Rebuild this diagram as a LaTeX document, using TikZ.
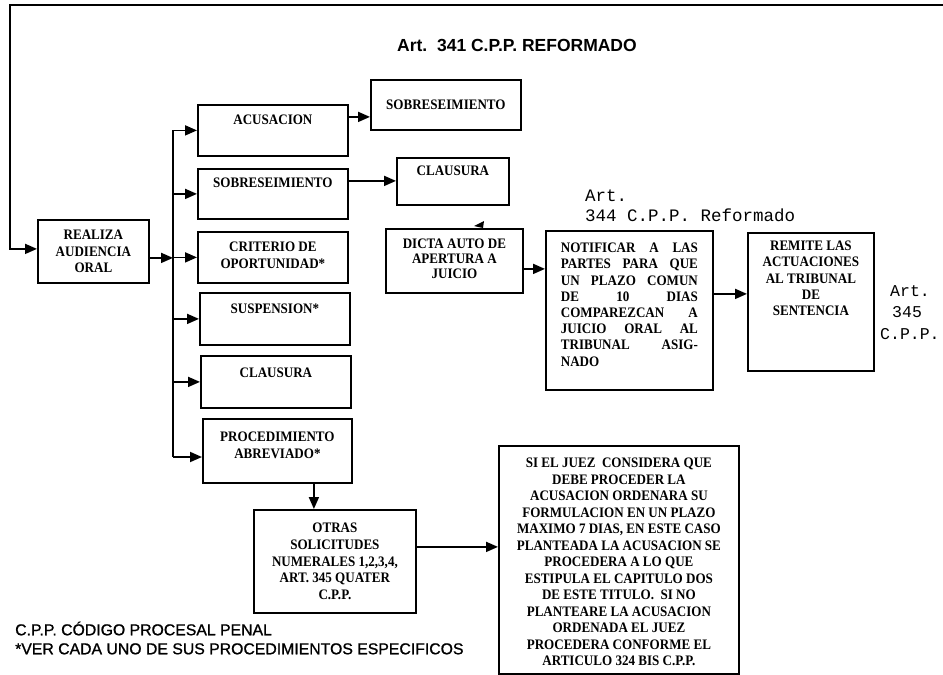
\documentclass[tikz,border=0pt]{standalone}
\usepackage{fontspec}
\setmainfont{Liberation Serif}
\setsansfont{Liberation Sans}
\setmonofont{Liberation Mono}
\newfontfamily\bxf{Liberation Serif}[FakeStretch=0.9]
\newfontfamily\footf{Liberation Sans}[FakeBold=1]
\usetikzlibrary{arrows.meta}
\newcommand{\tb}[4]{\parbox[c][#2][t]{#1}{\centering\vspace*{#3}#4\par}}
\newcommand{\cb}[3]{\parbox[c][#2][c]{#1}{\centering #3\par}}
\newcommand{\jl}[1]{\makebox[137pt][s]{#1}}
\begin{document}
\begin{tikzpicture}[x=1pt,y=-1pt,
  box/.style={draw, line width=1.8pt, inner sep=0pt, anchor=north west,
    font=\bxf\bfseries\fontsize{14.5}{16.5}\selectfont},
  arr/.style={line width=1.8pt, -{Triangle[length=12pt,width=10pt]}},
  ln/.style={line width=1.8pt}]
\useasboundingbox (0,0) rectangle (943,675);
\fill[white] (0,0) rectangle (943,675);

% title and notes
\node[anchor=west, inner sep=0pt, font=\sffamily\bfseries\fontsize{17.5}{20}\selectfont] (title) at (397,45) {Art.\ \ 341 C.P.P. REFORMADO};
\node[anchor=north west, inner sep=0pt, align=left, font=\ttfamily\fontsize{17.5}{20}\selectfont] (a344) at (585,190) {Art.\\344 C.P.P. Reformado};
\node[anchor=north west, inner sep=0pt, align=left, font=\ttfamily\fontsize{16.5}{21.5}\selectfont] (a345) at (880,285) {\hspace*{10pt}Art.\\\hspace*{12pt}345\\C.P.P.};
\node[anchor=west, inner sep=0pt, align=left, font=\footf\fontsize{15.8}{19}\selectfont] (foot) at (15,638) {C.P.P. CÓDIGO PROCESAL PENAL\\*VER CADA UNO DE SUS PROCEDIMIENTOS ESPECIFICOS};

% boxes
\node[box] (real) at (37,219) {\cb{111pt}{63pt}{REALIZA\\AUDIENCIA\\ORAL}};
\node[box] (acus) at (197,104) {\tb{150pt}{51pt}{10pt}{ACUSACION}};
\node[box] (sobre) at (197,168) {\tb{150pt}{50pt}{9.2pt}{SOBRESEIMIENTO}};
\node[box] (crit) at (197,231) {\tb{150pt}{51pt}{10.2pt}{CRITERIO DE\\OPORTUNIDAD*}};
\node[box] (susp) at (199,292) {\tb{150pt}{52pt}{11.2pt}{SUSPENSION*}};
\node[box] (claus) at (200,355) {\tb{150pt}{52pt}{12.2pt}{CLAUSURA}};
\node[box] (proc) at (202,418) {\tb{149pt}{64pt}{13.2pt}{PROCEDIMIENTO\\ABREVIADO*}};
\node[box] (sobreR) at (370,79) {\cb{150pt}{50pt}{SOBRESEIMIENTO}};
\node[box] (clausR) at (396,157) {\tb{112pt}{47pt}{8.2pt}{CLAUSURA}};
\node[box, font=\bxf\bfseries\fontsize{14.5}{15}\selectfont] (dicta) at (385,228) {\tb{137pt}{64pt}{10.2pt}{DICTA AUTO DE\\APERTURA A\\JUICIO}};
\node[box, font=\bxf\bfseries\fontsize{14.5}{16.2}\selectfont] (notif) at (545,230) {\tb{167pt}{159pt}{12.2pt}{\jl{NOTIFICAR A LAS}\\\jl{PARTES PARA QUE}\\\jl{UN PLAZO COMUN}\\\jl{DE 10 DIAS}\\\jl{COMPAREZCAN A}\\\jl{JUICIO ORAL AL}\\\jl{TRIBUNAL ASIG-}\\\makebox[137pt][l]{NADO}}};
\node[box, font=\bxf\bfseries\fontsize{14.5}{16.25}\selectfont] (remite) at (747,232) {\tb{126pt}{138pt}{8.2pt}{REMITE LAS\\ACTUACIONES\\AL TRIBUNAL\\DE\\SENTENCIA}};
\node[box, font=\bxf\bfseries\fontsize{14.5}{16.7}\selectfont] (otras) at (253,509) {\tb{162pt}{103pt}{13.2pt}{OTRAS\\SOLICITUDES\\NUMERALES 1,2,3,4,\\ART. 345 QUATER\\C.P.P.}};
\node[box] (si) at (498,445) {\tb{240pt}{228pt}{12.2pt}{SI EL JUEZ\ \ CONSIDERA QUE\\DEBE PROCEDER LA\\ACUSACION ORDENARA SU\\FORMULACION EN UN PLAZO\\MAXIMO 7 DIAS, EN ESTE CASO\\PLANTEADA LA ACUSACION SE\\PROCEDERA A LO QUE\\ESTIPULA EL CAPITULO DOS\\DE ESTE TITULO.\ \ SI NO\\PLANTEARE LA ACUSACION\\ORDENADA EL JUEZ\\PROCEDERA CONFORME EL\\ARTICULO 324 BIS C.P.P.}};

% connectors
\coordinate (tr) at (943,5);
\coordinate (tl) at (10,5);
\draw[arr] (tr) -- (tl) |- ([yshift=2.5pt]real.west);

\coordinate (bt) at (173,130);
\coordinate (bb) at (173,457);
\draw[ln] (bt) -- (bb);
\coordinate (p0) at ([yshift=-6.5pt]real.east);
\draw[arr] (p0) -- (p0 -| bt);
\draw[arr] (bt |- acus.west) -- (acus.west);
\draw[arr] (bt |- sobre.west) -- (sobre.west);
\draw[arr] (bt |- crit.west) -- (crit.west);
\draw[arr] (bt |- susp.west) -- (susp.west);
\draw[arr] (bt |- claus.west) -- (claus.west);
\draw[arr] (bb) -- (bb -| proc.west);

\coordinate (p1) at ([yshift=13.5pt]acus.east);
\draw[arr] (p1) -- (p1 -| sobreR.west);
\coordinate (p2) at ([yshift=13pt]sobre.east);
\draw[arr] (p2) -- (p2 -| clausR.west);
\coordinate (p3) at ([yshift=-8pt]dicta.east);
\draw[arr] (p3) -- (p3 -| notif.west);
\coordinate (p4) at ([yshift=16.5pt]notif.east);
\draw[arr] (p4) -- (p4 -| remite.west);
\coordinate (p5) at ([xshift=36.5pt]proc.south);
\draw[arr] (p5) -- (p5 |- otras.north);
\coordinate (p6) at ([yshift=14.5pt]otras.east);
\draw[arr] (p6) -- (p6 -| si.west);

% small arrow tip on top of the DICTA box
\fill (474,226) -- (484,221) -- (483,228) -- cycle;
\end{tikzpicture}
\end{document}
